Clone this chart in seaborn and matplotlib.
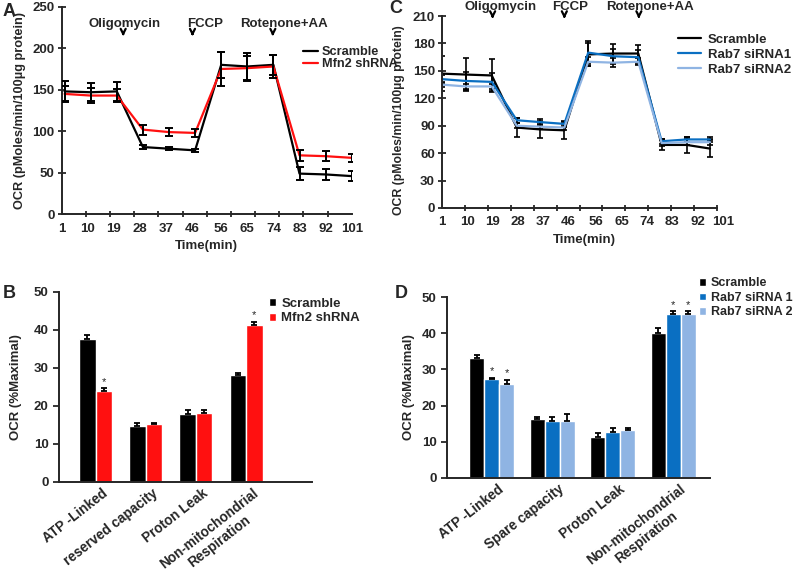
import numpy as np
import pandas as pd
import matplotlib
matplotlib.use("Agg")
import matplotlib.pyplot as plt
import matplotlib.transforms as mtransforms
import seaborn as sns

# ==============================
# Data
# ==============================
# Panel A - Seahorse trace, Mfn2
times_a = [2, 11, 20, 29, 38, 47, 56, 65, 74, 83, 92, 101]
scramble_a = [148, 147, 148, 81, 79, 77, 180, 178, 180, 49, 48, 46]
scramble_a_err = [12, 11, 11, 2, 2, 2, 16, 16, 12, 8, 7, 6]
mfn2_a = [145, 143, 143, 102, 99, 98, 175, 176, 178, 71, 70, 68]
mfn2_a_err = [10, 9, 8, 6, 5, 5, 20, 15, 14, 7, 6, 5]

# Panel C - Seahorse trace, Rab7
times_c = [1, 9.5, 18.8, 27.7, 35.9, 44.6, 53.1, 62, 70.9, 79.2, 88.1, 96.4]
scramble_c = [147, 146, 145, 88, 86, 85, 168, 169, 169, 69, 69, 65]
scramble_c_err = [19, 18, 18, 10, 9, 9, 13, 10, 9, 6, 9, 9]
rab1_c = [141, 139, 138, 96, 94, 92, 170, 166, 165, 73, 75, 75]
rab1_c_err = [4, 10, 10, 3, 3, 3, 13, 8, 8, 3, 3, 3]
rab2_c = [135, 133, 133, 90, 89, 88, 160, 159, 160, 71, 72, 72]
rab2_c_err = [3, 3, 3, 3, 3, 3, 5, 5, 4, 3, 3, 3]

time_labels = [1, 10, 19, 28, 37, 46, 56, 65, 74, 83, 92, 101]

# Panel B - bars, Mfn2
measures_b = ['ATP -Linked', 'reserved capacity', 'Proton Leak', 'Non-mitochondrial\nRespiration']
scramble_b = [37.5, 14.7, 17.9, 28.1]
scramble_b_err = [1.0, 0.7, 1.1, 0.6]
mfn2_b = [24.0, 15.1, 18.1, 41.3]
mfn2_b_err = [0.6, 0.4, 0.9, 0.8]
mfn2_b_sig = [True, False, False, True]

# Panel D - bars, Rab7
measures_d = ['ATP -Linked', 'Spare capacity', 'Proton Leak', 'Non-mitochondrial\nRespiration']
scramble_d = [33.3, 16.4, 11.4, 40.2]
scramble_d_err = [0.6, 0.3, 0.9, 1.3]
rab1_d = [27.4, 15.8, 12.8, 45.5]
rab1_d_err = [0.3, 0.9, 1.1, 0.6]
rab2_d = [25.9, 15.8, 13.3, 45.5]
rab2_d_err = [1.2, 1.8, 0.6, 0.6]
rab1_d_sig = [True, False, False, True]
rab2_d_sig = [True, False, False, True]

# ==============================
# Style
# ==============================
sns.set_style("ticks")
plt.rcParams['font.family'] = ['Liberation Sans', 'DejaVu Sans']
plt.rcParams['font.weight'] = 'bold'
plt.rcParams['axes.labelweight'] = 'bold'
plt.rcParams['axes.linewidth'] = 1.4

RED = '#ff1010'
BLUE = '#0a6fc2'
LIGHT = '#8fb4e3'

fig = plt.figure(figsize=(7.95, 5.73), dpi=100)
ax_a = fig.add_axes([0.0776, 0.626, 0.3648, 0.3623])
ax_c = fig.add_axes([0.5556, 0.637, 0.3591, 0.335])
ax_b = fig.add_axes([0.0742, 0.1593, 0.318, 0.3316])
ax_d = fig.add_axes([0.5623, 0.1663, 0.3308, 0.3148])


def style_trace(ax, x0, x1, ymax, ystep, label_x, label_size):
    sns.despine(ax=ax)
    ax.set_ylim(0, ymax)
    ax.set_yticks(np.arange(0, ymax + 1, ystep))
    ax.set_xticks(time_labels)
    ax.set_xticklabels([str(t) for t in time_labels])
    ax.set_xticks(np.linspace(x0, x1, 13), minor=True)
    ax.tick_params(axis='x', which='major', length=0, labelsize=9.5, pad=6)
    ax.tick_params(axis='x', which='minor', direction='inout', length=5, width=1.3)
    ax.tick_params(axis='y', direction='inout', length=6, width=1.3, labelsize=9.5, pad=2)
    ax.spines['bottom'].set_bounds(x0, x1)
    ax.set_ylabel('OCR (pMoles/min/100µg protein)', fontsize=label_size)
    ax.yaxis.set_label_coords(label_x, 0.5)
    ax.set_xlabel('Time(min)', fontsize=9.5, labelpad=4)
    for lab in ax.get_xticklabels() + ax.get_yticklabels():
        lab.set_fontweight('bold')


def add_injections(ax, arrows_x, text_x, text_y, tail_y, tip_y):
    names = ['Oligomycin', 'FCCP', 'Rotenone+AA']
    for name, ax_x, tx in zip(names, arrows_x, text_x):
        ax.text(tx, text_y, name, ha='center', va='center', fontsize=9.5,
                fontweight='bold', clip_on=False)
        ax.annotate('', xy=(ax_x, tip_y), xytext=(ax_x, tail_y),
                    arrowprops=dict(arrowstyle='->', lw=1.6, color='black',
                                    mutation_scale=9),
                    annotation_clip=False)


# ==============================
# Panel A
# ==============================
trace_a = pd.DataFrame({
    'time': times_a * 2,
    'ocr': scramble_a + mfn2_a,
    'group': ['Scramble'] * len(times_a) + ['Mfn2 shRNA'] * len(times_a),
})
sns.lineplot(data=trace_a, x='time', y='ocr', hue='group',
             palette={'Scramble': 'black', 'Mfn2 shRNA': RED},
             linewidth=1.6, ax=ax_a)
for vals, errs in [(scramble_a, scramble_a_err), (mfn2_a, mfn2_a_err)]:
    ax_a.errorbar(times_a, vals, yerr=errs, fmt='none', ecolor='black',
                  elinewidth=1.4, capsize=3, capthick=1.4, zorder=3)
ax_a.set_xlim(1, 101)
style_trace(ax_a, 1, 101, 250, 50, -0.122, 9.2)
add_injections(ax_a, [22.2, 46.1, 73.8], [22.7, 50.5, 77.8], 229, 222, 211)
ax_a.legend(loc='upper left', bbox_to_anchor=(0.373, 0.93),
            bbox_transform=fig.transFigure, frameon=False,
            handlelength=1.2, handletextpad=0.3, labelspacing=0.0,
            borderpad=0, prop={'weight': 'bold', 'size': 9.2})

# ==============================
# Panel C
# ==============================
trace_c = pd.DataFrame({
    'time': times_c * 3,
    'ocr': scramble_c + rab1_c + rab2_c,
    'group': (['Scramble'] * len(times_c) + ['Rab7 siRNA1'] * len(times_c)
              + ['Rab7 siRNA2'] * len(times_c)),
})
sns.lineplot(data=trace_c, x='time', y='ocr', hue='group',
             palette={'Scramble': 'black', 'Rab7 siRNA1': BLUE, 'Rab7 siRNA2': LIGHT},
             linewidth=1.6, ax=ax_c)
for vals, errs in [(rab2_c, rab2_c_err), (rab1_c, rab1_c_err), (scramble_c, scramble_c_err)]:
    ax_c.errorbar(times_c, vals, yerr=errs, fmt='none', ecolor='black',
                  elinewidth=1.2, capsize=2.5, capthick=1.2, zorder=1)
ax_c.set_xlim(1, 102.5)
style_trace(ax_c, 1, 99, 210, 30, -0.128, 8.8)
ax_c.yaxis.label.set_y(0.46)
add_injections(ax_c, [19.1, 44.6, 71.1], [22.1, 46.7, 75.2], 220, 214, 204)
ax_c.legend(loc='upper left', bbox_to_anchor=(0.844, 0.953),
            bbox_transform=fig.transFigure, frameon=False,
            handlelength=1.8, handletextpad=0.5, labelspacing=0.2,
            borderpad=0, prop={'weight': 'bold', 'size': 9.5})


# ==============================
# Bar panels
# ==============================
def bar_panel(ax, measures, series, errs, names, colors, sigs, width, xlim,
              legend_xy, label_x, legend_size):
    df = pd.DataFrame({
        'measure': measures * len(series),
        'value': sum(series, []),
        'group': sum([[n] * len(measures) for n in names], []),
    })
    sns.barplot(data=df, x='measure', y='value', hue='group', palette=colors,
                width=width, saturation=1, errorbar=None, ax=ax)
    for cont, vals, err, sig in zip(ax.containers, series, errs, sigs):
        xs = [b.get_x() + b.get_width() / 2 for b in cont]
        ax.errorbar(xs, vals, yerr=[np.zeros(len(vals)), err], fmt='none',
                    ecolor='black', elinewidth=1.3, capsize=2.5, capthick=1.3)
        for x, v, e, s in zip(xs, vals, err, sig):
            if s:
                ax.text(x, v + e + 0.4, '*', ha='center', va='bottom',
                        fontsize=8, fontweight='normal')
    sns.despine(ax=ax)
    ax.set_xlim(*xlim)
    ax.set_ylim(0, 50)
    ax.set_yticks(np.arange(0, 51, 10))
    ax.set_xlabel('')
    ax.set_ylabel('OCR (%Maximal)', fontsize=9.5)
    ax.yaxis.set_label_coords(label_x, 0.5)
    ax.tick_params(axis='x', length=0, labelsize=9.8, pad=3)
    ax.tick_params(axis='y', direction='out', length=4, width=1.3, labelsize=9.5)
    shift = mtransforms.ScaledTranslation(6 / 100, 0, fig.dpi_scale_trans)
    for lab in ax.get_xticklabels():
        lab.set_rotation(38)
        lab.set_ha('right')
        lab.set_rotation_mode('anchor')
        lab.set_multialignment('center')
        lab.set_fontweight('bold')
        lab.set_transform(lab.get_transform() + shift)
    for lab in ax.get_yticklabels():
        lab.set_fontweight('bold')
    ax.legend(loc='upper left', bbox_to_anchor=legend_xy,
              bbox_transform=fig.transFigure, frameon=False,
              handlelength=0.55, handleheight=0.55, handletextpad=0.4,
              labelspacing=0.2, borderpad=0,
              prop={'weight': 'bold', 'size': legend_size})


bar_panel(ax_b, measures_b, [scramble_b, mfn2_b], [scramble_b_err, mfn2_b_err],
          ['Scramble', 'Mfn2 shRNA'], ['black', RED],
          [[False] * 4, mfn2_b_sig], 0.66, (-0.73, 4.31), (0.33, 0.492), -0.146, 9.5)
bar_panel(ax_d, measures_d, [scramble_d, rab1_d, rab2_d],
          [scramble_d_err, rab1_d_err, rab2_d_err],
          ['Scramble', 'Rab7 siRNA 1', 'Rab7 siRNA 2'], ['black', BLUE, LIGHT],
          [[False] * 4, rab1_d_sig, rab2_d_sig], 0.74, (-0.74, 3.61), (0.871, 0.527),
          -0.122, 9.0)

# Panel letters
for letter, x, y in [('A', 0.003, 0.995), ('C', 0.489, 1.0),
                     ('B', 0.003, 0.503), ('D', 0.496, 0.503)]:
    fig.text(x, y, letter, fontsize=13, fontweight='bold', va='top', ha='left')

plt.savefig('out.png', dpi=100)
